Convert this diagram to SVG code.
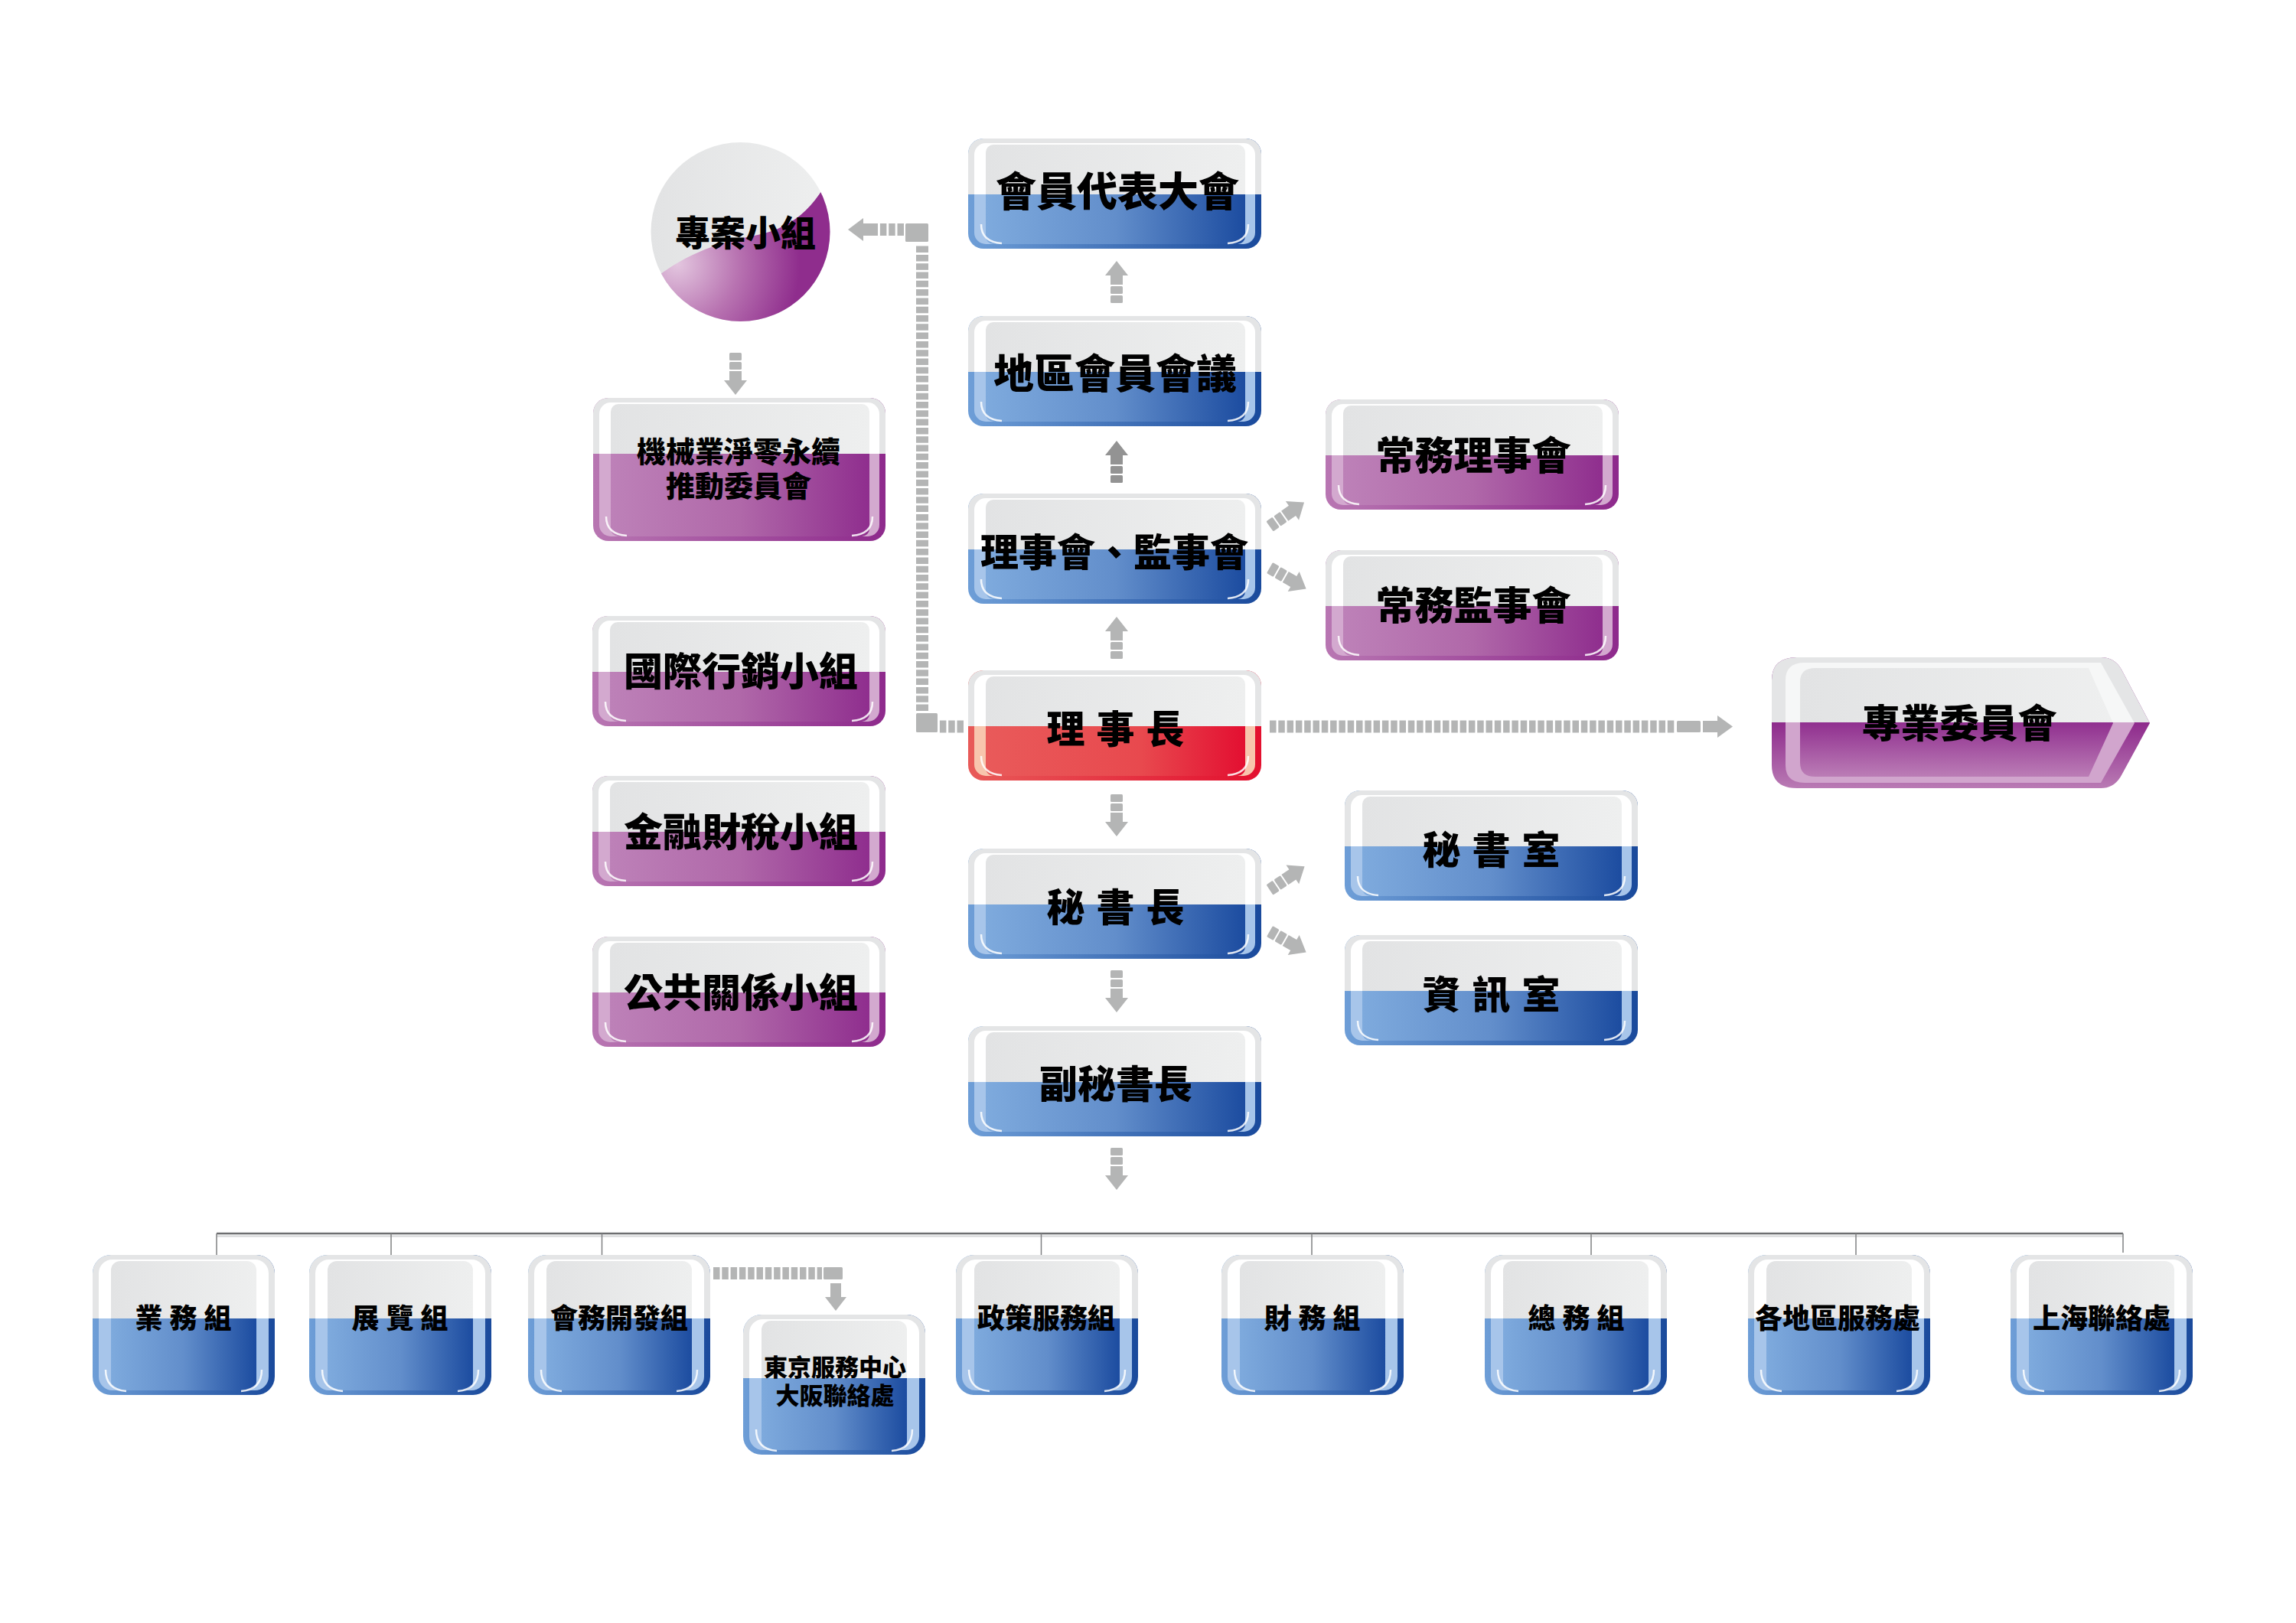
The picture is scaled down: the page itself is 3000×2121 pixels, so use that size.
<svg xmlns="http://www.w3.org/2000/svg" width="3000" height="2121" viewBox="0 0 3000 2121">
<style>
.t{font-family:"Noto Sans CJK TC","Noto Sans CJK JP",sans-serif;font-weight:900;fill:#000;text-anchor:middle}
.a{fill:#b4b5b5}
.dk{fill:#939393}
.dash{fill:none;stroke:#b4b5b5;stroke-width:16;stroke-dasharray:8.5 2.8}
.ln{fill:none;stroke:#6d6e70;stroke-width:2.5}
.ln2{fill:none;stroke:#d5d6d7;stroke-width:2}
.dr{fill:none;stroke:#808183;stroke-width:1.5}
.hl{fill:none;stroke:#fff;stroke-width:2.5;opacity:.85}
</style>
<defs>
<linearGradient id="rimB" x1="0" x2="1"><stop offset="0" stop-color="#6e9ed7"/><stop offset="1" stop-color="#1a4a9c"/></linearGradient>
<linearGradient id="inB" x1="0" x2="1"><stop offset="0" stop-color="#7eaadd"/><stop offset=".5" stop-color="#628ecb"/><stop offset="1" stop-color="#1c4ca0"/></linearGradient>
<linearGradient id="rimP" x1="0" x2="1"><stop offset="0" stop-color="#b876b2"/><stop offset="1" stop-color="#8e2a8c"/></linearGradient>
<linearGradient id="inP" x1="0" x2="1"><stop offset="0" stop-color="#bd81b8"/><stop offset=".5" stop-color="#b068a9"/><stop offset="1" stop-color="#8f2e8e"/></linearGradient>
<linearGradient id="rimR" x1="0" x2="1"><stop offset="0" stop-color="#e85a58"/><stop offset="1" stop-color="#e3102f"/></linearGradient>
<linearGradient id="inR" x1="0" x2="1"><stop offset="0" stop-color="#e95a5a"/><stop offset=".6" stop-color="#e8494e"/><stop offset="1" stop-color="#e30f31"/></linearGradient>
<linearGradient id="inG" x1="0" x2="1"><stop offset="0" stop-color="#e2e3e4"/><stop offset="1" stop-color="#eeefef"/></linearGradient>
<linearGradient id="zyRim" x1="0" y1="0" x2="0" y2="1"><stop offset=".5" stop-color="#8e2a8c"/><stop offset="1" stop-color="#b97bb4"/></linearGradient>
<linearGradient id="zyIn" x1="0" y1="0" x2="0" y2="1"><stop offset=".5" stop-color="#902f8f"/><stop offset="1" stop-color="#bb7db6"/></linearGradient>
<linearGradient id="circG" x1="0" x2="1"><stop offset="0" stop-color="#e2e3e4"/><stop offset="1" stop-color="#eeefef"/></linearGradient>
<radialGradient id="circP" gradientUnits="userSpaceOnUse" cx="885" cy="345" r="200"><stop offset="0" stop-color="#e3c6df"/><stop offset=".4" stop-color="#b873b1"/><stop offset=".8" stop-color="#8f2d8d"/></radialGradient>
<clipPath id="cT144"><rect width="383" height="73"/></clipPath>
<clipPath id="cT187"><rect width="382" height="73"/></clipPath>
<clipPath id="cTs"><rect width="238" height="83"/></clipPath>
<clipPath id="cZy"><rect x="2300" y="840" width="540" height="104"/></clipPath>
<clipPath id="cCirc"><circle cx="967.5" cy="303" r="117"/></clipPath>

<g id="tB">
<rect width="383" height="144" rx="20" fill="url(#rimB)"/>
<rect x="8" y="6" width="367" height="132" rx="15" fill="#a7c5ea"/>
<rect x="23" y="8" width="339" height="130" rx="10" fill="url(#inB)"/>
<g clip-path="url(#cT144)">
<rect width="383" height="144" rx="20" fill="#e4e5e6"/>
<rect x="8" y="6" width="367" height="132" rx="15" fill="#fff"/>
<rect x="23" y="8" width="339" height="130" rx="10" fill="url(#inG)"/>
</g>
<path class="hl" d="M17,112 Q17,135 44,137 M366,112 Q366,135 339,137"/>
</g>
<g id="tP">
<rect width="383" height="144" rx="20" fill="url(#rimP)"/>
<rect x="8" y="6" width="367" height="132" rx="15" fill="#d3a9cf"/>
<rect x="23" y="8" width="339" height="130" rx="10" fill="url(#inP)"/>
<g clip-path="url(#cT144)">
<rect width="383" height="144" rx="20" fill="#e4e5e6"/>
<rect x="8" y="6" width="367" height="132" rx="15" fill="#fff"/>
<rect x="23" y="8" width="339" height="130" rx="10" fill="url(#inG)"/>
</g>
<path class="hl" d="M17,112 Q17,135 44,137 M366,112 Q366,135 339,137"/>
</g>
<g id="tR">
<rect width="383" height="144" rx="20" fill="url(#rimR)"/>
<rect x="8" y="6" width="367" height="132" rx="15" fill="#f8c5ad"/>
<rect x="23" y="8" width="339" height="130" rx="10" fill="url(#inR)"/>
<g clip-path="url(#cT144)">
<rect width="383" height="144" rx="20" fill="#e4e5e6"/>
<rect x="8" y="6" width="367" height="132" rx="15" fill="#fff"/>
<rect x="23" y="8" width="339" height="130" rx="10" fill="url(#inG)"/>
</g>
<path class="hl" d="M17,112 Q17,135 44,137 M366,112 Q366,135 339,137"/>
</g>
<g id="tPT">
<rect width="382" height="187" rx="20" fill="url(#rimP)"/>
<rect x="8" y="6" width="366" height="175" rx="15" fill="#d3a9cf"/>
<rect x="23" y="8" width="338" height="173" rx="10" fill="url(#inP)"/>
<g clip-path="url(#cT187)">
<rect width="382" height="187" rx="20" fill="#e4e5e6"/>
<rect x="8" y="6" width="366" height="175" rx="15" fill="#fff"/>
<rect x="23" y="8" width="338" height="173" rx="10" fill="url(#inG)"/>
</g>
<path class="hl" d="M17,155 Q17,178 44,180 M365,155 Q365,178 338,180"/>
</g>
<g id="tS">
<rect width="238" height="183" rx="24" fill="url(#rimB)"/>
<rect x="8" y="6" width="222" height="171" rx="18" fill="#a7c5ea"/>
<rect x="24" y="8" width="190" height="169" rx="12" fill="url(#inB)"/>
<g clip-path="url(#cTs)">
<rect width="238" height="183" rx="24" fill="#e4e5e6"/>
<rect x="8" y="6" width="222" height="171" rx="18" fill="#fff"/>
<rect x="24" y="8" width="190" height="169" rx="12" fill="url(#inG)"/>
</g>
<path class="hl" d="M17,150 Q17,176 44,178 M221,150 Q221,176 194,178"/>
</g>
<g id="arr">
<rect x="0" y="-8" width="10" height="16" rx="1.5"/>
<rect x="12" y="-8" width="10" height="16" rx="1.5"/>
<path d="M24,-8 H36 V-15 L55,0 L36,15 V8 H24 Z"/>
</g>
</defs>

<rect width="3000" height="2121" fill="#fff"/>

<g id="connectors">
<use href="#arr" class="a" transform="translate(1459,396) rotate(-90)"/>
<use href="#arr" class="dk" transform="translate(1459,631) rotate(-90)"/>
<use href="#arr" class="a" transform="translate(1459,861) rotate(-90)"/>
<use href="#arr" class="a" transform="translate(1459,1038) rotate(90)"/>
<use href="#arr" class="a" transform="translate(1459,1268) rotate(90)"/>
<use href="#arr" class="a" transform="translate(1459,1500) rotate(90)"/>
<use href="#arr" class="a" transform="translate(961,461) rotate(90)"/>
<use href="#arr" class="a" transform="translate(1659,688) rotate(-35)"/>
<use href="#arr" class="a" transform="translate(1659,742) rotate(30)"/>
<use href="#arr" class="a" transform="translate(1659,1163) rotate(-34)"/>
<use href="#arr" class="a" transform="translate(1659,1217) rotate(30)"/>
<path class="dash" d="M1259,949.5 H1227"/>
<rect class="a" x="1197" y="932" width="28" height="25" rx="1.5"/>
<path class="dash" d="M1205,929 V319"/>
<rect class="a" x="1183" y="292" width="30" height="24" rx="1.5"/>
<path class="dash" d="M1181,300 H1149"/>
<path class="a" d="M1108,300 L1128,285 V292 H1147 V308 H1128 V315 Z"/>
<path class="dash" d="M1659,949.5 H2188"/>
<rect class="a" x="2191" y="942" width="31" height="15" rx="1.5"/>
<path class="a" d="M2225,942 H2244 V935 L2264,949.5 L2244,964 V957 H2225 Z"/>
<path class="dash" d="M932,1664 H1074"/>
<rect class="a" x="1076" y="1656" width="25" height="16" rx="1.5"/>
<path class="a" d="M1085,1677 H1099 V1695 H1106 L1092,1713 L1078,1695 H1085 Z"/>
<path class="ln2" d="M283,1615.5 H2774"/>
<path class="ln" d="M283,1612 H2774"/>
<path class="dr" d="M283,1612 V1640 M511,1612 V1640 M786.5,1612 V1640 M1360.5,1612 V1640 M1714,1612 V1640 M2079,1612 V1640 M2425,1612 V1640 M2774,1612 V1637"/>
</g>

<g id="n-huiyuandaibiao"><use href="#tB" x="1265" y="181"/><text class="t" x="1460" y="270" font-size="53">會員代表大會</text></g>
<g id="n-diquhuiyuan"><use href="#tB" x="1265" y="413"/><text class="t" x="1457" y="508" font-size="53">地區會員會議</text></g>
<g id="n-lishihui"><use href="#tB" x="1265" y="645"/><text class="t" x="1456" y="740" font-size="50">理事會、監事會</text></g>
<g id="n-lishizhang"><use href="#tR" x="1265" y="876"/><text class="t" x="1465" y="971" font-size="50" letter-spacing="15">理事長</text></g>
<g id="n-mishuzhang"><use href="#tB" x="1265" y="1109"/><text class="t" x="1465" y="1204" font-size="50" letter-spacing="15">秘書長</text></g>
<g id="n-fumishuzhang"><use href="#tB" x="1265" y="1341"/><text class="t" x="1458" y="1435" font-size="50">副秘書長</text></g>

<g id="n-changwulishi"><use href="#tP" x="1732" y="522"/><text class="t" x="1925" y="614" font-size="51">常務理事會</text></g>
<g id="n-changwujianshi"><use href="#tP" x="1732" y="719"/><text class="t" x="1925" y="810" font-size="51">常務監事會</text></g>
<g id="n-mishushi"><use href="#tB" x="1757" y="1033"/><text class="t" x="1956" y="1129" font-size="50" letter-spacing="15">秘書室</text></g>
<g id="n-zixunshi"><use href="#tB" x="1757" y="1222"/><text class="t" x="1956" y="1318" font-size="50" letter-spacing="15">資訊室</text></g>

<g id="n-zhuanye">
<path d="M2348,859 H2745 Q2763,859 2772,875 L2809,945 L2772,1013 Q2763,1030 2745,1030 H2348 Q2315,1030 2315,1000 V889 Q2315,859 2348,859 Z" fill="url(#zyRim)"/>
<path d="M2358,866 H2745 L2789,945 L2745,1023 H2358 Q2333,1023 2333,1000 V889 Q2333,866 2358,866 Z" fill="#d1a5cd"/>
<path d="M2372,873 H2729 L2761,945 L2729,1015 H2372 Q2352,1015 2352,997 V891 Q2352,873 2372,873 Z" fill="url(#zyIn)"/>
<g clip-path="url(#cZy)">
<path d="M2348,859 H2745 Q2763,859 2772,875 L2809,945 L2772,1013 Q2763,1030 2745,1030 H2348 Q2315,1030 2315,1000 V889 Q2315,859 2348,859 Z" fill="#e4e5e6"/>
<path d="M2358,866 H2745 L2789,945 L2745,1023 H2358 Q2333,1023 2333,1000 V889 Q2333,866 2358,866 Z" fill="#f6f7f7"/>
<path d="M2372,873 H2729 L2761,945 L2729,1015 H2372 Q2352,1015 2352,997 V891 Q2352,873 2372,873 Z" fill="url(#inG)"/>
</g>
<text class="t" x="2560" y="964" font-size="51">專業委員會</text>
</g>

<g id="n-zhuanan">
<circle cx="967.5" cy="303" r="117" fill="url(#circG)"/>
<path clip-path="url(#cCirc)" d="M850,368 C890,336 930,318 990,307 C1030,299 1060,276 1080,238 L1100,230 V440 H840 Z" fill="url(#circP)"/>
<text class="t" x="974" y="321" font-size="46">專案小組</text>
</g>
<g id="n-jixie"><use href="#tPT" x="775" y="520"/><text class="t" font-size="38"><tspan x="965" y="604">機械業淨零永續</tspan><tspan x="965" y="649">推動委員會</tspan></text></g>
<g id="n-guoji"><use href="#tP" x="774" y="805"/><text class="t" x="968" y="896" font-size="51">國際行銷小組</text></g>
<g id="n-jinrong"><use href="#tP" x="774" y="1014"/><text class="t" x="968" y="1106" font-size="51">金融財稅小組</text></g>
<g id="n-gonggong"><use href="#tP" x="774" y="1224"/><text class="t" x="968" y="1316" font-size="51">公共關係小組</text></g>

<g id="n-yewu"><use href="#tS" x="121" y="1640"/><text class="t" x="244" y="1736" font-size="36" letter-spacing="9">業務組</text></g>
<g id="n-zhanlan"><use href="#tS" x="404" y="1640"/><text class="t" x="527" y="1736" font-size="36" letter-spacing="9">展覽組</text></g>
<g id="n-huiwukaifa"><use href="#tS" x="690" y="1640"/><text class="t" x="809" y="1736" font-size="36">會務開發組</text></g>
<g id="n-dongjing"><use href="#tS" x="971" y="1718"/><text class="t" font-size="31"><tspan x="1091" y="1798">東京服務中心</tspan><tspan x="1091" y="1835">大阪聯絡處</tspan></text></g>
<g id="n-zhengce"><use href="#tS" x="1249" y="1640"/><text class="t" x="1367" y="1736" font-size="36">政策服務組</text></g>
<g id="n-caiwu"><use href="#tS" x="1596" y="1640"/><text class="t" x="1719" y="1736" font-size="36" letter-spacing="9">財務組</text></g>
<g id="n-zongwu"><use href="#tS" x="1940" y="1640"/><text class="t" x="2064" y="1736" font-size="36" letter-spacing="9">總務組</text></g>
<g id="n-gediqu"><use href="#tS" x="2284" y="1640"/><text class="t" x="2401" y="1736" font-size="36">各地區服務處</text></g>
<g id="n-shanghai"><use href="#tS" x="2627" y="1640"/><text class="t" x="2746" y="1736" font-size="36">上海聯絡處</text></g>
</svg>
